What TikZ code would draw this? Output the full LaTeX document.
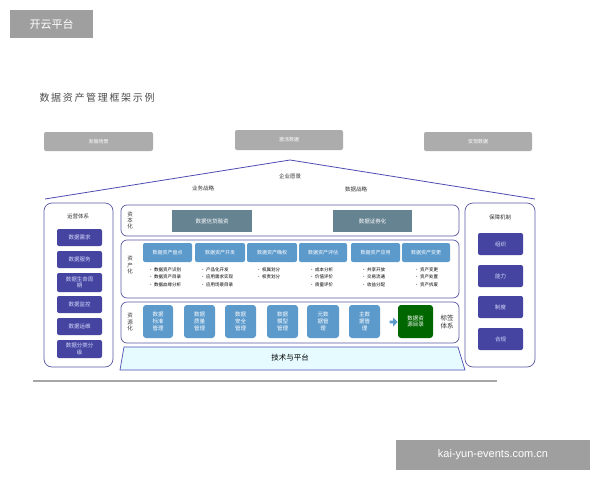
\documentclass[tikz,border=0pt]{standalone}
\usepackage{fontspec}
\usetikzlibrary{shapes.arrows}
\setmainfont{Noto Sans CJK SC}
\newfontfamily\lat{Liberation Sans}
\begin{document}
\begin{tikzpicture}[x=1pt,y=-1pt,
 gbox/.style={fill=gray!65,rounded corners=2pt,text=white,font=\fontsize{5}{6}\selectfont},
 panel/.style={draw=blue!30!gray,line width=0.7pt,rounded corners=8pt,fill=white},
 row/.style={draw=blue!30!gray,line width=0.7pt,rounded corners=6pt},
 opb/.style={fill=blue!40!gray!90!black,draw=none,rounded corners=2pt,text=white!85!blue,font=\fontsize{5.5}{6.5}\selectfont,align=center},
 teal/.style={fill=cyan!40!black!80,text=white,font=\fontsize{5.5}{6.5}\selectfont},
 ab/.style={fill=blue!45!cyan!55!white!80!black,rounded corners=2pt,text=white,font=\fontsize{5}{6}\selectfont},
 rb/.style={fill=blue!45!cyan!55!white!80!black,rounded corners=3pt,text=white,font=\fontsize{5.5}{6.8}\selectfont,align=center},
 lst/.style={font=\fontsize{4.5}{7.5}\selectfont,align=left,anchor=north west},
 lab/.style={font=\fontsize{5.5}{6.5}\selectfont,text=black!80}]
\useasboundingbox (0,0) rectangle (600,480);
\fill[white] (0,0) rectangle (600,480);
% watermarks
\node[fill=gray!75,text=white,minimum width=83,minimum height=28,font=\fontsize{11}{12}\selectfont,inner sep=0] (wm1) at (51.5,24) {开云平台};
\node[fill=gray!75,text=white,minimum width=194,minimum height=30,font=\lat\fontsize{11}{12}\selectfont,inner sep=0] (wm2) at (493,455) {kai-yun-events.com.cn};
\node[anchor=west,font=\fontsize{10}{12}\selectfont,text=black!70] (title) at (36,98) {数\,据\,资\,产\,管\,理\,框\,架\,示\,例};
% top boxes
\node[gbox,minimum width=109,minimum height=19] (t1) at (98.5,141.5) {发掘场景};
\node[gbox,minimum width=108,minimum height=20] (t2) at (289,140) {激活数据};
\node[gbox,minimum width=108,minimum height=19] (t3) at (478,141.5) {变现数据};
% roof
\draw[blue!40!gray,line width=0.8pt] (45,199) -- (290,160) -- (535,199);
\node[lab] (v) at (290,176) {企业愿景};
\node[lab] (s1) at (203,188) {业务战略};
\node[lab] (s2) at (356,189) {数据战略};
% side panels
\draw[panel] (44,203) rectangle (113,367);
\node[lab] (ops) at (78,216) {运营体系};
\foreach \t/\a/\b [count=\i] in {数据需求/229/246,数据服务/251/268,{数据生命周\\期}/273/292,数据监控/296/313,数据运维/318/335,{数据分类分\\级}/340/358}
  \node[opb,minimum width=45,minimum height={\b-\a},inner sep=0] (o\i) at (79.5,{(\a+\b)/2}) {\t};
\draw[panel] (465,203) rectangle (535,367);
\node[lab] (gua) at (500,217) {保障机制};
\foreach \t/\a/\b [count=\i] in {组织/233/255,能力/265/287,制度/296/318,合规/328/350}
  \node[opb,minimum width=45,minimum height=22,inner sep=0] (g\i) at (500.5,{(\a+\b)/2}) {\t};
% rows
\draw[row] (121,205) rectangle (459,236);
\node[lab,align=center,font=\fontsize{5.5}{6.3}\selectfont] (r1) at (130,220.5) {资\\本\\化};
\node[teal,minimum width=80,minimum height=22] (c1) at (212,221) {数据信贷融资};
\node[teal,minimum width=79,minimum height=22] (c2) at (372.5,221) {数据证券化};
\draw[row] (121,240) rectangle (459,298);
\node[lab,align=center,font=\fontsize{5.5}{6.3}\selectfont] (r2) at (130,265) {资\\产\\化};
\foreach \t/\l/\r [count=\i] in {数据资产盘点/143/192,数据资产开发/195/245,数据资产确权/247/297,数据资产评估/299/347,数据资产应用/351/400,数据资产变更/402/450}
  \node[ab,minimum width={\r-\l},minimum height=19,inner sep=0] (a\i) at ({(\l+\r)/2},252.5) {\t};
\node[lst] (l1) at (145,264) {• 数据资产识别\\• 数据资产目录\\• 数据血缘分析};
\node[lst] (l2) at (197,264) {• 产品化开发\\• 应用需求实现\\• 应用场景目录};
\node[lst] (l3) at (253,264) {• 权属划分\\• 权责划分};
\node[lst] (l4) at (306,264) {• 成本分析\\• 价值评价\\• 质量评价};
\node[lst] (l5) at (358,264) {• 共享开放\\• 交易流通\\• 收益分配};
\node[lst] (l6) at (411,264) {• 资产变更\\• 资产处置\\• 资产拆废};
\draw[row] (121,302) rectangle (459,343);
\node[lab,align=center,font=\fontsize{5.5}{6.3}\selectfont] (r3) at (130,322) {资\\源\\化};
\foreach \t/\l/\r [count=\i] in {{数据\\标准\\管理}/143/173,{数据\\质量\\管理}/184/215,{数据\\安全\\管理}/225/256,{数据\\模型\\管理}/267/298,{元数\\据管\\理}/307/339,{主数\\据管\\理}/349/380}
  \node[rb,minimum width={\r-\l},minimum height=33,inner sep=0] (b\i) at ({(\l+\r)/2},321.5) {\t};
\node[single arrow,fill=blue!45!cyan!55!white!80!black,minimum width=9,minimum height=8,single arrow head extend=1.5pt,inner sep=0.5pt] (arr) at (393,322) {};
\node[fill=green!40!black,rounded corners=3pt,text=white,minimum width=35,minimum height=33,inner sep=0,align=center,font=\fontsize{5.5}{6.8}\selectfont] (cat) at (415.5,321.5) {数据资\\源目录};
\node[lab,align=center,font=\fontsize{6.5}{7.5}\selectfont] (tag) at (447,322) {标签\\体系};
% platform
\draw[blue!40!gray,line width=0.7pt,fill=blue!15!cyan!10!white] (124,347) -- (458,347) -- (465,370) -- (120,370) -- cycle;
\node[font=\fontsize{7.5}{9}\selectfont] (plat) at (290,358) {技术与平台};
\draw[gray!70,line width=1.5pt] (33,381) -- (497,381);
\end{tikzpicture}
\end{document}
